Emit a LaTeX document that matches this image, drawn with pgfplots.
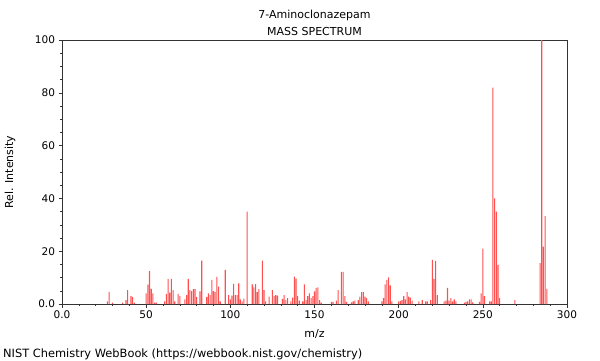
\documentclass[border=0pt]{standalone}
\usepackage{fontspec}
\setmainfont{DejaVu Sans}
\usepackage{pgfplots}
\usepackage{pgfplotstable}
\pgfplotsset{compat=1.18}
\pgfplotstableread{
mz int
27 1
28 4.6
30 0.5
36 0.5
38 1.5
39 5.3
41 3
42 2.7
43 0.5
50 4
51 7.3
52 12.5
53 5.7
54 4
55 0.5
56 0.5
61 1
62 3.8
63 9.5
64 4.3
65 9.5
66 5.3
67 1
69 3.8
70 3
73 1.8
74 3.4
75 9.5
76 5.3
77 4.9
78 5.6
79 5.6
80 2.7
82 4.8
83 16.4
86 2.7
87 4.0
88 3.4
89 9.1
90 4.9
91 4.5
92 10.3
93 6.6
94 1
97 12.9
99 3.4
100 1.8
101 3.2
102 7.6
103 3.4
104 3.4
105 7.8
106 1.8
107 1
108 2
110 35
113 7.4
114 6.3
115 7.5
116 4.5
117 5.6
119 16.4
120 5.3
121 1
123 2.8
125 5.3
126 3.0
127 3.4
128 3.2
131 1.9
132 3.4
133 1.5
134 2.2
136 1
137 2.4
138 10.4
139 9.6
140 3
141 1.3
143 1
144 7.4
145 1.5
146 3
147 4.0
148 2.2
149 3
150 4.8
151 6.1
152 6.3
153 1.5
154 0.5
160 0.8
161 0.8
163 1.3
164 5.3
166 12.2
167 12.2
168 3
169 0.8
172 0.6
173 1
174 1.3
176 1.5
177 2.8
178 4.5
179 4.5
180 2.8
181 2.2
182 1
190 1
191 2.2
192 7.4
193 9.1
194 10.1
195 7.1
196 1
200 1
201 1.2
202 1.5
203 3
204 1.8
205 4.5
206 2.8
207 2.4
208 1.3
212 1
214 1.5
216 1
217 1
219 1.5
220 16.7
221 9.5
222 16.3
223 3.4
227 1
228 1.3
229 6.1
230 1.3
231 2.2
232 1
233 1.8
234 1
239 0.5
240 0.8
241 1
242 1.8
243 1.8
244 0.6
248 0.8
249 4
250 21
251 3
254 1
255 1
256 82
257 40
258 35
259 14.8
260 2.2
269 1.5
284 15.5
285 100
286 21.7
287 33.3
288 5.7
}\spectrum
\definecolor{peak}{RGB}{255,80,80}
\begin{document}
\begin{tikzpicture}
\useasboundingbox (0pt,0pt) rectangle (600pt,360pt);
\begin{axis}[
  at={(62pt,56pt)}, anchor=south west,
  width=505pt, height=264pt, scale only axis,
  xmin=0, xmax=300, ymin=0, ymax=100,
  xtick={0,50,...,300}, xticklabels={0.0,50,100,150,200,250,300},
  ytick={0,20,...,100}, yticklabels={0.0,20,40,60,80,100},
  minor x tick num=4, minor y tick num=3,
  tick align=outside, xtick pos=bottom, ytick pos=left,
  major tick length=3.5pt, minor tick length=2pt,
  axis line style={black!80, line width=0.8pt},
  tick style={black!80, line width=0.6pt},
  /pgf/number format/assume math mode=true,
  ticklabel style={font=\fontsize{10.5}{12}\selectfont},
  clip=false,
]
\addplot[ybar, bar width=0.65, fill=peak, draw=none] table[x=mz, y=int] {\spectrum};
\end{axis}
\node[anchor=base, font=\fontsize{11}{13}\selectfont] at (314.5pt,342pt) {7-Aminoclonazepam};
\node[anchor=base, font=\fontsize{11}{13}\selectfont] at (314.5pt,325pt) {MASS SPECTRUM};
\node[anchor=base, font=\fontsize{11}{13}\selectfont] at (314.5pt,23pt) {m/z};
\node[anchor=base, rotate=90, font=\fontsize{11}{13}\selectfont] at (13pt,188pt) {Rel. Intensity};
\node[anchor=base west, inner sep=0pt, font=\fontsize{11.4}{13}\selectfont] at (3pt,3pt) {NIST Chemistry WebBook (https://webbook.nist.gov/chemistry)};
\end{tikzpicture}
\end{document}
